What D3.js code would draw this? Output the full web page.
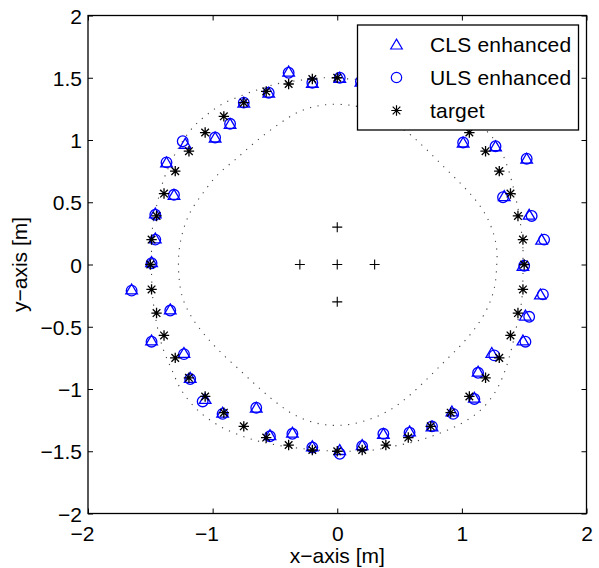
<!DOCTYPE html>
<html>
<head>
<meta charset="utf-8">
<script src="https://cdn.jsdelivr.net/npm/d3@7"></script>
<style>
  body { margin: 0; background: #fff; }
  text { font-family: "Liberation Sans", Arial, Helvetica, sans-serif; }
</style>
</head>
<body>
<div id="chart-area"></div>
<script>
const width = 599;
const height = 568;

// target positions [x, y] in metres
const target = [
    [1.50, 0.00], [1.49, 0.20], [1.45, 0.39], [1.39, 0.57], [1.30, 0.75], [1.19, 0.91],
    [1.06, 1.06], [0.91, 1.19], [0.75, 1.30], [0.57, 1.39], [0.39, 1.45], [0.20, 1.49],
    [0.00, 1.50], [-0.20, 1.49], [-0.39, 1.45], [-0.57, 1.39], [-0.75, 1.30], [-0.91, 1.19],
    [-1.06, 1.06], [-1.19, 0.91], [-1.30, 0.75], [-1.39, 0.57], [-1.45, 0.39], [-1.49, 0.20],
    [-1.50, 0.00], [-1.49, -0.20], [-1.45, -0.39], [-1.39, -0.57], [-1.30, -0.75], [-1.19, -0.91],
    [-1.06, -1.06], [-0.91, -1.19], [-0.75, -1.30], [-0.57, -1.39], [-0.39, -1.45], [-0.20, -1.49],
    [0.00, -1.50], [0.20, -1.49], [0.39, -1.45], [0.57, -1.39], [0.75, -1.30], [0.91, -1.19],
    [1.06, -1.06], [1.19, -0.91], [1.30, -0.75], [1.39, -0.57], [1.45, -0.39], [1.49, -0.20]
];

// CLS enhanced estimates
const cls = [
    [1.49, -0.01], [1.64, 0.20], [1.54, 0.40], [1.34, 0.55], [1.52, 0.85], [1.27, 0.95],
    [1.01, 0.98], [0.93, 1.20], [0.78, 1.32], [0.60, 1.42], [0.38, 1.50], [0.19, 1.47],
    [0.02, 1.50], [-0.20, 1.46], [-0.39, 1.55], [-0.55, 1.38], [-0.75, 1.30], [-0.86, 1.13],
    [-0.98, 1.02], [-1.22, 0.97], [-1.37, 0.82], [-1.31, 0.56], [-1.46, 0.41], [-1.46, 0.21],
    [-1.49, 0.02], [-1.65, -0.20], [-1.34, -0.36], [-1.49, -0.61], [-1.23, -0.71], [-1.18, -0.91],
    [-1.06, -1.08], [-0.92, -1.19], [-0.65, -1.15], [-0.54, -1.37], [-0.36, -1.35], [-0.20, -1.46],
    [0.02, -1.49], [0.20, -1.45], [0.37, -1.36], [0.58, -1.34], [0.76, -1.30], [0.92, -1.18],
    [1.10, -1.07], [1.13, -0.86], [1.24, -0.71], [1.49, -0.61], [1.51, -0.41], [1.63, -0.24]
];

// ULS enhanced estimates
const uls = [
    [1.50, -0.01], [1.66, 0.20], [1.56, 0.39], [1.33, 0.54], [1.52, 0.85], [1.27, 0.95],
    [1.01, 0.98], [0.94, 1.21], [0.78, 1.33], [0.60, 1.42], [0.38, 1.51], [0.19, 1.47],
    [0.02, 1.50], [-0.20, 1.46], [-0.39, 1.54], [-0.55, 1.38], [-0.75, 1.30], [-0.86, 1.13],
    [-0.98, 1.02], [-1.24, 0.99], [-1.37, 0.82], [-1.31, 0.56], [-1.46, 0.40], [-1.46, 0.20],
    [-1.49, 0.01], [-1.65, -0.21], [-1.34, -0.37], [-1.49, -0.62], [-1.23, -0.72], [-1.18, -0.92],
    [-1.08, -1.10], [-0.92, -1.20], [-0.65, -1.15], [-0.54, -1.38], [-0.36, -1.36], [-0.20, -1.47],
    [0.02, -1.52], [0.20, -1.46], [0.37, -1.36], [0.58, -1.35], [0.76, -1.30], [0.93, -1.20],
    [1.10, -1.08], [1.13, -0.87], [1.26, -0.73], [1.51, -0.62], [1.54, -0.42], [1.65, -0.24]
];

// anchor nodes
const anchors = [[0, 0.3], [-0.3, 0], [0, 0], [0.3, 0], [0, -0.3]];

// dotted boundaries
const innerBound = [
    [1.28, 0.00], [1.28, 0.12], [1.25, 0.26], [1.19, 0.40], [1.10, 0.53], [0.99, 0.65],
    [0.86, 0.78], [0.72, 0.92], [0.59, 1.04], [0.45, 1.14], [0.29, 1.23], [0.10, 1.28],
    [-0.12, 1.28], [-0.30, 1.23], [-0.48, 1.12], [-0.65, 0.99], [-0.81, 0.85], [-0.96, 0.72],
    [-1.08, 0.57], [-1.18, 0.42], [-1.24, 0.26], [-1.27, 0.10], [-1.27, -0.10], [-1.24, -0.27],
    [-1.17, -0.42], [-1.06, -0.57], [-0.93, -0.71], [-0.78, -0.85], [-0.64, -0.98], [-0.50, -1.10],
    [-0.34, -1.21], [-0.14, -1.28], [0.05, -1.29], [0.24, -1.25], [0.42, -1.17], [0.57, -1.06],
    [0.72, -0.92], [0.86, -0.78], [0.99, -0.65], [1.10, -0.52], [1.20, -0.36], [1.26, -0.19]
];

const outerBound = [
    [1.49, 0.00], [1.49, 0.13], [1.47, 0.33], [1.44, 0.50], [1.40, 0.67], [1.35, 0.83],
    [1.29, 0.96], [1.21, 1.06], [1.10, 1.17], [0.97, 1.27], [0.80, 1.35], [0.62, 1.41],
    [0.45, 1.45], [0.29, 1.48], [0.10, 1.49], [-0.12, 1.50], [-0.30, 1.48], [-0.49, 1.45],
    [-0.62, 1.41], [-0.76, 1.36], [-0.92, 1.29], [-1.05, 1.20], [-1.16, 1.10], [-1.26, 0.96],
    [-1.33, 0.83], [-1.39, 0.69], [-1.44, 0.51], [-1.48, 0.32], [-1.49, 0.12], [-1.49, -0.08],
    [-1.48, -0.27], [-1.45, -0.47], [-1.40, -0.67], [-1.33, -0.84], [-1.25, -1.01], [-1.12, -1.17],
    [-0.94, -1.30], [-0.73, -1.39], [-0.54, -1.44], [-0.27, -1.48], [0.00, -1.50], [0.12, -1.50],
    [0.29, -1.49], [0.45, -1.46], [0.63, -1.42], [0.81, -1.36], [0.99, -1.28], [1.15, -1.17],
    [1.27, -1.02], [1.34, -0.87], [1.40, -0.67], [1.44, -0.49], [1.48, -0.29], [1.49, -0.10]
];

const xTicks = [-2, -1, 0, 1, 2];
const yTicks = [-2, -1.5, -1, -0.5, 0, 0.5, 1, 1.5, 2];
const legendLabels = ["CLS enhanced", "ULS enhanced", "target"];

const plotL = 88, plotR = 586.5, plotT = 15.5, plotB = 513.5;

const x = d3.scaleLinear().domain([-2, 2]).range([plotL, plotR]);
const y = d3.scaleLinear().domain([-2, 2]).range([plotB, plotT]);

const svg = d3.select("#chart-area")
    .append("svg")
    .attr("width", width)
    .attr("height", height);

// marker shapes
const triPath = "M0,-5.4L5.8,4.5L-5.8,4.5Z";
const starPath = "M-5.2,0H5.2M0,-5.2V5.2M-3.8,-3.8L3.8,3.8M-3.8,3.8L3.8,-3.8";
const plusPath = "M-5,0H5M0,-5V5";

// axes
const fmt = d => d3.format("")(d);

const xAxis = svg.append("g")
    .attr("transform", `translate(0,${plotB})`)
    .call(d3.axisBottom(x).tickValues(xTicks).tickSize(-5).tickSizeOuter(0).tickFormat(fmt));
xAxis.selectAll("text")
    .attr("y", 27)
    .attr("dy", 0)
    .attr("dx", d => d < 0 ? "-0.29em" : 0);

const yAxis = svg.append("g")
    .attr("transform", `translate(${plotL},0)`)
    .call(d3.axisLeft(y).tickValues(yTicks).tickSize(-5).tickSizeOuter(0).tickPadding(6).tickFormat(fmt));
yAxis.selectAll("text").attr("dy", "0.36em");

svg.append("g")
    .attr("transform", `translate(0,${plotT})`)
    .call(d3.axisTop(x).tickValues(xTicks).tickSize(-5).tickSizeOuter(0).tickFormat(""));
svg.append("g")
    .attr("transform", `translate(${plotR},0)`)
    .call(d3.axisRight(y).tickValues(yTicks).tickSize(-5).tickSizeOuter(0).tickFormat(""));

svg.selectAll(".domain").remove();
svg.selectAll(".tick line").attr("stroke", "#000");
svg.selectAll(".tick text")
    .attr("fill", "#000")
    .style("font-size", "21px")
    .style("font-family", "'Liberation Sans', Arial, sans-serif");

svg.append("rect")
    .attr("x", plotL)
    .attr("y", plotT)
    .attr("width", plotR - plotL)
    .attr("height", plotB - plotT)
    .attr("fill", "none")
    .attr("stroke", "#000")
    .attr("stroke-width", 1.3);

// axis titles
svg.append("text")
    .attr("x", (plotL + plotR) / 2)
    .attr("y", 563)
    .attr("text-anchor", "middle")
    .style("font-size", "21px")
    .text("x\u2212axis [m]");

svg.append("text")
    .attr("transform", `translate(27,${(plotT + plotB) / 2}) rotate(-90)`)
    .attr("text-anchor", "middle")
    .style("font-size", "21px")
    .text("y\u2212axis [m]");

// dotted boundaries
const line = d3.line()
    .x(d => x(d[0]))
    .y(d => y(d[1]))
    .curve(d3.curveCatmullRomClosed);

svg.selectAll(".bound")
    .data([innerBound, outerBound])
    .enter().append("path")
    .attr("class", "bound")
    .attr("d", line)
    .attr("fill", "none")
    .attr("stroke", "#444")
    .attr("stroke-width", 1.1)
    .attr("stroke-dasharray", "1.2,6.5");

// anchors
svg.selectAll(".anchor")
    .data(anchors)
    .enter().append("path")
    .attr("class", "anchor")
    .attr("transform", d => `translate(${x(d[0])},${y(d[1])})`)
    .attr("d", plusPath)
    .attr("stroke", "#000")
    .attr("stroke-width", 1.1);

// estimates
svg.selectAll(".cls")
    .data(cls)
    .enter().append("path")
    .attr("class", "cls")
    .attr("transform", d => `translate(${x(d[0])},${y(d[1])})`)
    .attr("d", triPath)
    .attr("fill", "none")
    .attr("stroke", "#0000ff")
    .attr("stroke-width", 1.3);

svg.selectAll(".uls")
    .data(uls)
    .enter().append("circle")
    .attr("class", "uls")
    .attr("cx", d => x(d[0]))
    .attr("cy", d => y(d[1]))
    .attr("r", 5.3)
    .attr("fill", "none")
    .attr("stroke", "#0000ff")
    .attr("stroke-width", 1.3);

svg.selectAll(".target")
    .data(target)
    .enter().append("path")
    .attr("class", "target")
    .attr("transform", d => `translate(${x(d[0])},${y(d[1])})`)
    .attr("d", starPath)
    .attr("stroke", "#000")
    .attr("stroke-width", 1.3);

// legend
const legend = svg.append("g").attr("transform", "translate(357.5,25)");
legend.append("rect")
    .attr("width", 221)
    .attr("height", 105)
    .attr("fill", "#fff")
    .attr("stroke", "#000")
    .attr("stroke-width", 1.3);

const item = legend.selectAll(".item")
    .data(legendLabels)
    .enter().append("g")
    .attr("class", "item")
    .attr("transform", (d, i) => `translate(0,${19.5 + i * 33})`);

item.append("path")
    .attr("transform", "translate(39,0)")
    .attr("d", (d, i) => i === 0 ? triPath : i === 1 ? d3.symbol(d3.symbolCircle, Math.PI * 27)() : starPath)
    .attr("fill", "none")
    .attr("stroke", (d, i) => i === 2 ? "#000" : "#0000ff")
    .attr("stroke-width", 1.2);

item.append("text")
    .attr("x", 72.5)
    .attr("y", 7.8)
    .style("font-size", "21px")
    .style("letter-spacing", "0.2px")
    .text(d => d);
</script>
</body>
</html>
